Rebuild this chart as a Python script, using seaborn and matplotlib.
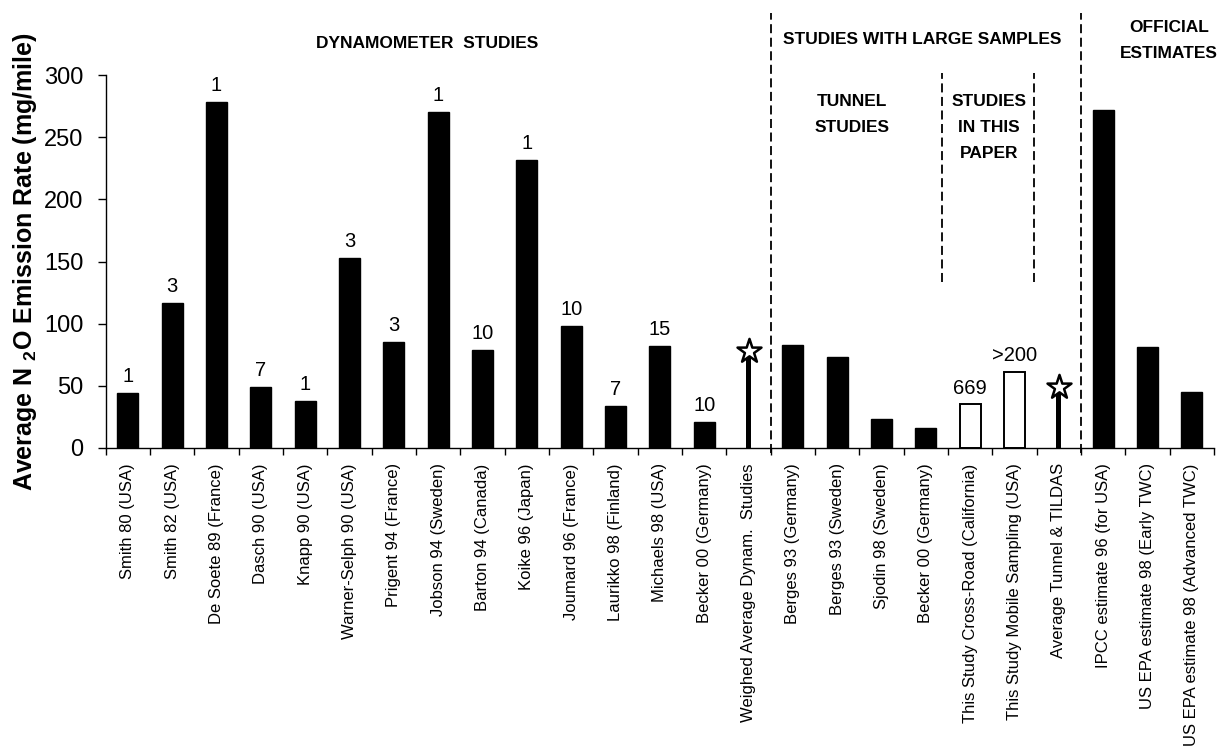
import numpy as np
import pandas as pd
import matplotlib
matplotlib.use("Agg")
import matplotlib.pyplot as plt
import seaborn as sns

# ---- data -------------------------------------------------------------
study_labels = [
    "Smith 80 (USA)", "Smith 82 (USA)", "De Soete 89 (France)", "Dasch 90 (USA)",
    "Knapp 90 (USA)", "Warner-Selph 90 (USA)", "Prigent 94 (France)",
    "Jobson 94 (Sweden)", "Barton 94 (Canada)", "Koike 96 (Japan)",
    "Joumard 96 (France)", "Laurikko 98 (Finland)", "Michaels 98 (USA)",
    "Becker 00 (Germany)", "Weighed Average Dynam.  Studies",
    "Berges 93 (Germany)", "Berges 93 (Sweden)", "Sjodin 98 (Sweden)",
    "Becker 00 (Germany)", "This Study Cross-Road (California)",
    "This Study Mobile Sampling (USA)", "Average Tunnel & TILDAS",
    "IPCC estimate 96 (for USA)", "US EPA estimate 98 (Early TWC)",
    "US EPA estimate 98 (Advanced TWC)",
]
emission_rate = [44, 117, 278, 49, 38, 153, 85, 270, 79, 232, 98, 33.5, 82, 21,
                 78, 83, 73, 23, 16, 35, 61, 49, 272, 81, 45]
sample_counts = ["1", "3", "1", "7", "1", "3", "3", "1", "10", "1", "10", "7", "15", "10",
                 "", "", "", "", "", "669", ">200", "", "", "", ""]
bar_kind = ["study"] * 14 + ["average"] + ["study"] * 4 + ["this", "this", "average"] + ["study"] * 3
y_ticks = [0, 50, 100, 150, 200, 250, 300]

df = pd.DataFrame({
    "idx": np.arange(len(study_labels)),
    "rate": emission_rate,
    "kind": bar_kind,
    "count": sample_counts,
})

# ---- figure -----------------------------------------------------------
sns.set_style("ticks", {"text.color": "black", "axes.labelcolor": "black",
                        "xtick.color": "black", "ytick.color": "black",
                        "axes.edgecolor": "black"})
plt.rcParams["font.family"] = ["Liberation Sans", "DejaVu Sans"]
plt.rcParams["mathtext.default"] = "regular"

W, H = 1221, 753
fig = plt.figure(figsize=(W / 100, H / 100), dpi=100)
ax = fig.add_axes([105.7 / W, 1 - 448 / H, (1214 - 105.7) / W, (448 - 75) / H])

sns.barplot(data=df, x="idx", y="rate", order=list(df["idx"]), color="black",
            width=0.47, saturation=1, errorbar=None, ax=ax)

stem_w = 0.11
for patch, kind in zip(ax.containers[0].patches, df["kind"]):
    patch.set_edgecolor("black")
    if kind == "this":
        patch.set_facecolor("white")
        patch.set_linewidth(1.4)
    elif kind == "average":
        cx = patch.get_x() + patch.get_width() / 2
        patch.set_width(stem_w)
        patch.set_x(cx - stem_w / 2)
        patch.set_linewidth(0)

# star markers on the averaged values
avg = df[df["kind"] == "average"]
ax.scatter(avg["idx"], avg["rate"], marker="*", s=330, facecolor="white",
           edgecolor="black", linewidth=1.8, zorder=5, clip_on=False)

# sample-size annotations above bars
for x, y, c in zip(df["idx"], df["rate"], df["count"]):
    if c:
        ax.annotate(c, (x, y), xytext=(0, 5), textcoords="offset points",
                    ha="center", va="bottom", fontsize=14.5, color="black")

# ---- axes styling -----------------------------------------------------
ax.set_xlim(-0.5, len(study_labels) - 0.5)
ax.set_ylim(0, 300)
ax.set_yticks(y_ticks)
ax.tick_params(axis="y", labelsize=17, length=6, width=1, pad=10, direction="out")
ax.set_xticks(df["idx"])
ax.set_xticklabels(study_labels, rotation=90, fontsize=12)
ax.set_xticks(np.arange(-0.5, len(study_labels)), minor=True)
ax.tick_params(axis="x", which="major", length=0, pad=11)
ax.tick_params(axis="x", which="minor", length=5, width=1, direction="out")
ax.set_xlabel("")
ax.set_ylabel("Average N $_2$O Emission Rate (mg/mile)", fontsize=18,
              fontweight="bold", labelpad=4)
sns.despine(ax=ax)
for s in ("left", "bottom"):
    ax.spines[s].set_linewidth(1)
    ax.spines[s].set_color("black")

# ---- group separators and headings ------------------------------------
trans = ax.get_xaxis_transform()
dash = (0, (5, 2.5))
for xb in (14.5, 21.5):
    ax.plot([xb, xb], [-0.013, 1.166], transform=trans, color="black", lw=1.3,
            ls=dash, clip_on=False)
for xb in (18.36, 20.45):
    ax.plot([xb, xb], [0.445, 1.005], transform=trans, color="black", lw=1.3,
            ls=dash, clip_on=False)

def frac(py):
    return (448 - py) / 373

head = dict(transform=trans, ha="center", va="center", fontsize=12.5,
            fontweight="bold", color="black")
ax.text(6.75, frac(43), "DYNAMOMETER  STUDIES", **head)
ax.text(17.91, frac(40), "STUDIES WITH LARGE SAMPLES", **head)
ax.text(23.48, frac(28), "OFFICIAL", **head)
ax.text(23.48, frac(53), "ESTIMATES", **head)
ax.text(16.34, frac(101), "TUNNEL", **head)
ax.text(16.34, frac(127), "STUDIES", **head)
ax.text(19.43, frac(102), "STUDIES", **head)
ax.text(19.43, frac(128), "IN THIS", **head)
ax.text(19.43, frac(153), "PAPER", **head)

fig.savefig("out.png", dpi=100)
